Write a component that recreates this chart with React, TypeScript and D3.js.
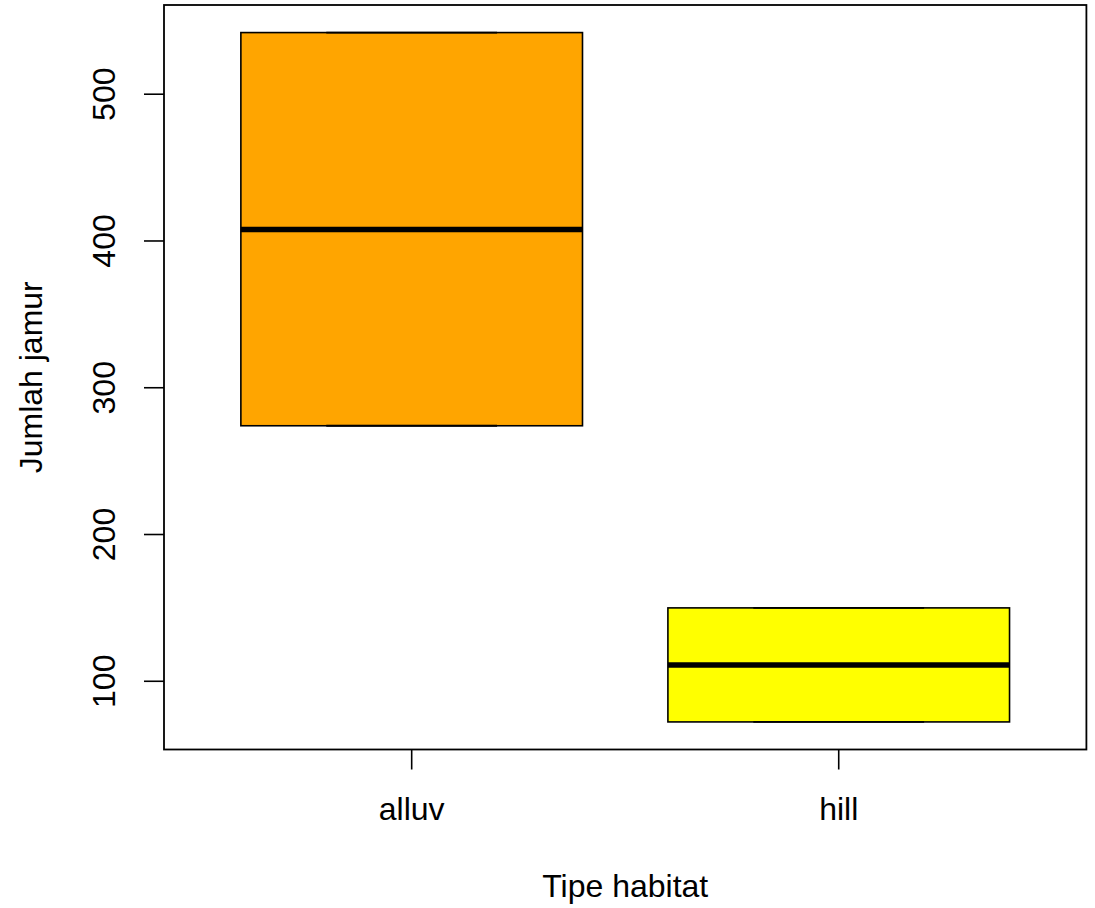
import React from "react";
import * as d3 from "d3";

const categories = ["alluv", "hill"];
const lowerWhisker = [274.1, 72.3];
const q1 = [274.1, 72.3];
const medians = [407.9, 111.1];
const q3 = [542.0, 150.0];
const upperWhisker = [542.0, 150.0];
const fills = ["#FFA500", "#FFFF00"];
const yTicks = [100, 200, 300, 400, 500];
const xTitle = "Tipe habitat";
const yTitle = "Jumlah jamur";

const W = 1095;
const H = 908;
const left = 164;
const right = 1086.4;
const top = 5;
const bottom = 749.5;
const FONT = "'Liberation Sans', Arial, Helvetica, sans-serif";
const FS = 32;

export default function App() {
  const lo = d3.min(lowerWhisker)!;
  const hi = d3.max(upperWhisker)!;
  const pad = (hi - lo) * 0.04;
  const y = d3.scaleLinear().domain([lo - pad, hi + pad]).range([bottom, top]);
  const n = categories.length;
  const xpad = n * 0.04;
  const x = d3.scaleLinear().domain([0.5 - xpad, n + 0.5 + xpad]).range([left, right]);
  const boxW = 0.8;
  const stapleW = 0.4;

  return (
    <div style={{ position: "absolute", left: 0, top: 0 }}>
      <svg width={W} height={H} style={{ display: "block", background: "#fff" }}>
        {categories.map((c, i) => {
          const cx = i + 1;
          const x0 = x(cx - boxW / 2);
          const x1 = x(cx + boxW / 2);
          const s0 = x(cx - stapleW / 2);
          const s1 = x(cx + stapleW / 2);
          return (
            <g key={c}>
              <line x1={x(cx)} x2={x(cx)} y1={y(lowerWhisker[i])} y2={y(q1[i])} stroke="#000" strokeWidth={1.6} strokeDasharray="6,6" />
              <line x1={x(cx)} x2={x(cx)} y1={y(upperWhisker[i])} y2={y(q3[i])} stroke="#000" strokeWidth={1.6} strokeDasharray="6,6" />
              <rect x={x0} y={y(q3[i])} width={x1 - x0} height={y(q1[i]) - y(q3[i])} fill={fills[i]} stroke="#000" strokeWidth={1.6} />
              <line x1={s0} x2={s1} y1={y(lowerWhisker[i])} y2={y(lowerWhisker[i])} stroke="#000" strokeWidth={1.8} />
              <line x1={s0} x2={s1} y1={y(upperWhisker[i])} y2={y(upperWhisker[i])} stroke="#000" strokeWidth={1.8} />
              <line x1={x0} x2={x1} y1={y(medians[i])} y2={y(medians[i])} stroke="#000" strokeWidth={5.5} />
            </g>
          );
        })}
        <rect x={left} y={top} width={right - left} height={bottom - top} fill="none" stroke="#000" strokeWidth={1.8} />
        {yTicks.map((t) => (
          <g key={t}>
            <line x1={left - 20} x2={left} y1={y(t)} y2={y(t)} stroke="#000" strokeWidth={1.6} />
            <text
              transform={`translate(${115},${y(t)}) rotate(-90)`}
              textAnchor="middle"
              fontFamily={FONT}
              fontSize={FS}
              fill="#000"
            >
              {t}
            </text>
          </g>
        ))}
        {categories.map((c, i) => (
          <g key={c}>
            <line x1={x(i + 1)} x2={x(i + 1)} y1={bottom} y2={bottom + 20} stroke="#000" strokeWidth={1.6} />
            <text x={x(i + 1)} y={820} textAnchor="middle" fontFamily={FONT} fontSize={FS} fill="#000">
              {c}
            </text>
          </g>
        ))}
        <text x={(left + right) / 2} y={897} textAnchor="middle" fontFamily={FONT} fontSize={FS} fill="#000">
          {xTitle}
        </text>
        <text
          transform={`translate(${42},${(top + bottom) / 2}) rotate(-90)`}
          textAnchor="middle"
          fontFamily={FONT}
          fontSize={FS}
          fill="#000"
        >
          {yTitle}
        </text>
      </svg>
    </div>
  );
}
